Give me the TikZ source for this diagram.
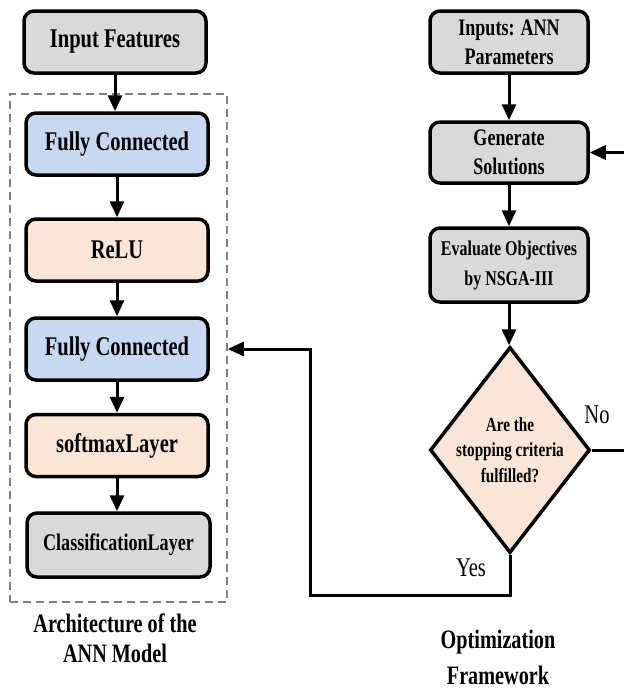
\documentclass[tikz,border=0pt]{standalone}
\usepackage{fontspec}
\setmainfont{Liberation Serif}[FakeStretch=0.76]
\usetikzlibrary{arrows.meta,shapes.geometric}
\definecolor{boxgray}{HTML}{D9D9D9}
\definecolor{boxblue}{HTML}{C6D9F0}
\definecolor{boxpeach}{HTML}{FBE5D6}
\definecolor{framegray}{HTML}{808080}
\begin{document}
\begin{tikzpicture}[x=1pt,y=-1pt,
  stage/.style={draw, line width=3.5pt, rounded corners=10pt, minimum width=182pt,
    minimum height=62pt, inner sep=0pt, align=center,
    font=\bfseries\fontsize{27}{30}\selectfont},
  optbox/.style={stage, minimum width=158pt,
    font=\bfseries\fontsize{23.7}{29}\selectfont},
  gray box/.style={fill=boxgray},
  blue box/.style={fill=boxblue},
  peach box/.style={fill=boxpeach},
  flow/.style={line width=3pt, -{Triangle[length=16pt,width=14pt]}},
  decision/.style={draw, line width=3.5pt, fill=boxpeach, diamond, inner sep=0pt,
    minimum width=160pt, minimum height=206pt},
  caption/.style={align=center, font=\bfseries\fontsize{26.6}{30}\selectfont},
  answer/.style={font=\fontsize{27}{30}\selectfont}
]
\useasboundingbox (0,0) rectangle (624,689);

% ---- ANN architecture ----
\node[draw=framegray, line width=1.6pt, dash pattern=on 8pt off 5pt,
  minimum width=217pt, minimum height=508pt, inner sep=0pt] (arch) at (118.5,348) {};

\node[stage, gray box]  (feat) at (115,42)  {Input Features};
\node[stage, blue box]  (fc1)  at (117,144) {Fully Connected};
\node[stage, peach box] (relu) at (117,250) {ReLU};
\node[stage, blue box]  (fc2)  at (117,349) {Fully Connected};
\node[stage, peach box] (soft) at (117,445.5) {softmaxLayer};
\node[stage, gray box, minimum width=183pt, minimum height=64pt,
  font=\bfseries\fontsize{23.8}{27}\selectfont] (cls) at (118.5,545) {ClassificationLayer};

\draw[flow] (feat.south) -- (feat.south |- fc1.north);
\draw[flow] (fc1.south) -- (relu.north);
\draw[flow] (relu.south) -- (fc2.north);
\draw[flow] (fc2.south) -- (soft.north);
\draw[flow] (soft.south) -- (soft.south |- cls.north);

\node[caption] (archtitle) at (115,638) {Architecture of the\\ANN Model};

% ---- optimization loop ----
\node[optbox, gray box] (inp) at (509,42) {Inputs: ANN\\Parameters};
\node[optbox, gray box, minimum height=61pt] (gen) at (509,152.5) {Generate\\Solutions};
\node[optbox, gray box, minimum height=74pt,
  font=\bfseries\fontsize{21}{30}\selectfont] (eval) at (509,265) {Evaluate Objectives\\by NSGA-III};
\node[decision, label={[align=center, font=\bfseries\fontsize{20}{25.5}\selectfont]center:{Are the\\stopping criteria\\fulfilled?}}] (dec) at (510,450) {};

\draw[flow] (inp.south) -- (inp.south |- gen.north);
\draw[flow] (gen.south) -- (gen.south |- eval.north);
\draw[flow] (eval.south) -- (eval.south |- dec.north);

% "No" branch loops back to solution generation
\coordinate (noturn) at (630,450);
\draw[flow] (dec.east) -- (noturn) |- (gen.east);
\node[answer] (nolabel) at (597,415) {No};

% "Yes" branch feeds the tuned parameters into the network
\coordinate (yesdown) at (510,595);
\coordinate (yesleft) at (310,595);
\draw[flow] (dec.south) -- (yesdown) -- (yesleft) |- (arch.east |- fc2);
\node[answer] (yeslabel) at (471,568) {Yes};

\node[caption, font=\bfseries\fontsize{26.6}{36}\selectfont] (opttitle) at (498,657) {Optimization\\Framework};
\end{tikzpicture}
\end{document}
